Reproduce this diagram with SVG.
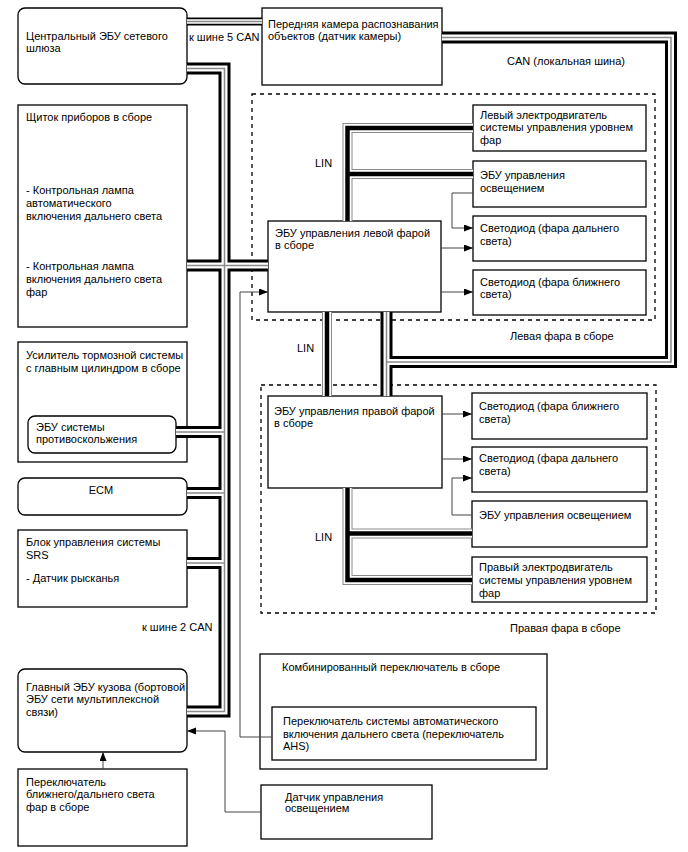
<svg xmlns="http://www.w3.org/2000/svg" xmlns:xlink="http://www.w3.org/1999/xlink" width="688" height="852" viewBox="0 0 688 852">
<style>
.box{fill:#fff;stroke:#000;stroke-width:1.3}
.t{font-family:"Liberation Sans",Arial,sans-serif;font-size:11px;fill:#000}
.dash{fill:none;stroke:#000;stroke-width:1.3;stroke-dasharray:4 4}
.cb{fill:none;stroke:#000;stroke-width:12;stroke-linejoin:miter}
.cw{fill:none;stroke:#fff;stroke-width:6;stroke-linejoin:miter}
.cg{fill:none;stroke:#8a8a8a;stroke-width:1.5;stroke-linejoin:miter}
.lg{fill:none;stroke:#8a8a8a;stroke-width:10;stroke-linejoin:miter}
.lw{fill:none;stroke:#fff;stroke-width:8;stroke-linejoin:miter}
.lb{fill:none;stroke:#000;stroke-width:4.5;stroke-linejoin:miter}
.wire{fill:none;stroke:#444;stroke-width:1}
</style>
<defs>
<marker id="arr" markerUnits="userSpaceOnUse" markerWidth="10" markerHeight="8" refX="9" refY="3.5" orient="auto">
<path d="M0,0 L9,3.5 L0,7 z" fill="#000"/>
</marker>
<path id="c_main" d="M187,68.5 H224.5 V711.5 H187"/>
<path id="c_ip" d="M187,265.5 H268"/>
<path id="c_abs" d="M176,432 H224.5"/>
<path id="c_ecm" d="M187,493 H224.5"/>
<path id="c_srs" d="M187,563 H224.5"/>
<path id="c_cam" d="M442,37.5 H671 V362 H386.5"/>
<path id="c_hl" d="M386.5,312 V396"/>
<path id="c_top" d="M187,21.5 H262"/>
<path id="l_left" d="M347.5,221 V128 H473"/>
<path id="l_left2" d="M347.5,174 H473"/>
<path id="l_mid" d="M327,312 V396"/>
<path id="l_right" d="M347.5,488 V580 H472"/>
<path id="l_right2" d="M347.5,533.5 H472"/>
</defs>
<rect width="688" height="852" fill="#fff"/>

<g id="left-headlamp-group">
<rect class="dash" x="252" y="94" width="403" height="226"/>
<text class="t" x="510" y="340">Левая фара в сборе</text>
</g>
<g id="right-headlamp-group">
<rect class="dash" x="261" y="385" width="395" height="228"/>
<text class="t" x="510" y="632">Правая фара в сборе</text>
</g>

<g id="gateway">
<rect class="box" x="18" y="8" width="169" height="76" rx="7"/>
<text class="t" x="26" y="40">Центральный ЭБУ сетевого</text>
<text class="t" x="26" y="52">шлюза</text>
</g>
<g id="instrument-cluster">
<rect class="box" x="18" y="105" width="169" height="222"/>
<text class="t" x="26" y="121">Щиток приборов в сборе</text>
<text class="t" x="26" y="194">- Контрольная лампа</text>
<text class="t" x="26" y="207">автоматического</text>
<text class="t" x="26" y="220">включения дальнего света</text>
<text class="t" x="26" y="270">- Контрольная лампа</text>
<text class="t" x="26" y="283">включения дальнего света</text>
<text class="t" x="26" y="296">фар</text>
</g>
<g id="brake-booster">
<rect class="box" x="18" y="342" width="169" height="120"/>
<text class="t" x="26" y="359">Усилитель тормозной системы</text>
<text class="t" x="26" y="372">с главным цилиндром в сборе</text>
</g>
<g id="skid-control-ecu">
<rect class="box" x="28" y="416" width="148" height="37" rx="7"/>
<text class="t" x="36" y="431">ЭБУ системы</text>
<text class="t" x="36" y="443">противоскольжения</text>
</g>
<g id="ecm">
<rect class="box" x="18" y="478" width="169" height="37" rx="7"/>
<text class="t" x="101" y="494" text-anchor="middle">ECM</text>
</g>
<g id="srs">
<rect class="box" x="18" y="530" width="169" height="77"/>
<text class="t" x="26" y="546">Блок управления системы</text>
<text class="t" x="26" y="559">SRS</text>
<text class="t" x="26" y="582">- Датчик рысканья</text>
</g>
<g id="main-body-ecu">
<rect class="box" x="18" y="669" width="169" height="83" rx="7"/>
<text class="t" x="26" y="691">Главный ЭБУ кузова (бортовой</text>
<text class="t" x="26" y="703">ЭБУ сети мультиплексной</text>
<text class="t" x="26" y="716">связи)</text>
</g>
<g id="dimmer-switch">
<rect class="box" x="18" y="769" width="169" height="77"/>
<text class="t" x="26" y="786">Переключатель</text>
<text class="t" x="26" y="798">ближнего/дальнего света</text>
<text class="t" x="26" y="811">фар в сборе</text>
</g>
<g id="camera">
<rect class="box" x="262" y="8" width="180" height="77"/>
<text class="t" x="268" y="28">Передняя камера распознавания</text>
<text class="t" x="268" y="40">объектов (датчик камеры)</text>
</g>
<g id="left-ecu">
<rect class="box" x="268" y="221" width="173" height="91"/>
<text class="t" x="275" y="237">ЭБУ управления левой фарой</text>
<text class="t" x="275" y="249">в сборе</text>
</g>
<g id="left-motor">
<rect class="box" x="473" y="105" width="173" height="46"/>
<text class="t" x="480" y="119">Левый электродвигатель</text>
<text class="t" x="480" y="131">системы управления уровнем</text>
<text class="t" x="480" y="144">фар</text>
</g>
<g id="left-light-ecu">
<rect class="box" x="473" y="161" width="173" height="46"/>
<text class="t" x="480" y="179">ЭБУ управления</text>
<text class="t" x="480" y="192">освещением</text>
</g>
<g id="left-led-high">
<rect class="box" x="473" y="216" width="173" height="45"/>
<text class="t" x="480" y="232">Светодиод (фара дальнего</text>
<text class="t" x="480" y="245">света)</text>
</g>
<g id="left-led-low">
<rect class="box" x="473" y="270" width="173" height="45"/>
<text class="t" x="480" y="286">Светодиод (фара ближнего</text>
<text class="t" x="480" y="298">света)</text>
</g>
<g id="right-ecu">
<rect class="box" x="268" y="396" width="174" height="92"/>
<text class="t" x="274" y="415">ЭБУ управления правой фарой</text>
<text class="t" x="274" y="427">в сборе</text>
</g>
<g id="right-led-low">
<rect class="box" x="472" y="393" width="175" height="46"/>
<text class="t" x="479" y="410">Светодиод (фара ближнего</text>
<text class="t" x="479" y="423">света)</text>
</g>
<g id="right-led-high">
<rect class="box" x="472" y="447" width="175" height="45"/>
<text class="t" x="479" y="462">Светодиод (фара дальнего</text>
<text class="t" x="479" y="475">света)</text>
</g>
<g id="right-light-ecu">
<rect class="box" x="472" y="501" width="175" height="46"/>
<text class="t" x="479" y="519">ЭБУ управления освещением</text>
</g>
<g id="right-motor">
<rect class="box" x="472" y="557" width="175" height="45"/>
<text class="t" x="479" y="571">Правый электродвигатель</text>
<text class="t" x="479" y="584">системы управления уровнем</text>
<text class="t" x="479" y="597">фар</text>
</g>
<g id="combination-switch">
<rect class="box" x="260" y="654" width="287" height="115"/>
<text class="t" x="282" y="671">Комбинированный переключатель в сборе</text>
</g>
<g id="ahs-switch">
<rect class="box" x="272" y="707" width="264" height="53"/>
<text class="t" x="283" y="725">Переключатель системы автоматического</text>
<text class="t" x="283" y="738">включения дальнего света (переключатель</text>
<text class="t" x="283" y="750">AHS)</text>
</g>
<g id="light-sensor">
<rect class="box" x="261" y="785" width="171" height="54"/>
<text class="t" x="285" y="801">Датчик управления</text>
<text class="t" x="285" y="812">освещением</text>
</g>

<g id="connectors">
<g class="cb">
<use xlink:href="#c_main"/><use xlink:href="#c_ip"/><use xlink:href="#c_abs"/><use xlink:href="#c_ecm"/><use xlink:href="#c_srs"/><use xlink:href="#c_cam"/><use xlink:href="#c_hl"/>
<use xlink:href="#c_top" style="stroke-width:8"/>
</g>
<g class="cw">
<use xlink:href="#c_main"/><use xlink:href="#c_ip"/><use xlink:href="#c_abs"/><use xlink:href="#c_ecm"/><use xlink:href="#c_srs"/><use xlink:href="#c_cam"/><use xlink:href="#c_hl"/>
<use xlink:href="#c_top" style="stroke-width:4.5"/>
</g>
<g class="cg">
<use xlink:href="#c_main"/><use xlink:href="#c_ip"/><use xlink:href="#c_abs"/><use xlink:href="#c_ecm"/><use xlink:href="#c_srs"/><use xlink:href="#c_cam"/><use xlink:href="#c_hl"/><use xlink:href="#c_top"/>
</g>
<g class="lg">
<use xlink:href="#l_left"/><use xlink:href="#l_left2"/><use xlink:href="#l_mid"/><use xlink:href="#l_right"/><use xlink:href="#l_right2"/>
</g>
<g class="lw">
<use xlink:href="#l_left"/><use xlink:href="#l_left2"/><use xlink:href="#l_mid"/><use xlink:href="#l_right"/><use xlink:href="#l_right2"/>
</g>
<g class="lb">
<use xlink:href="#l_left"/><use xlink:href="#l_left2"/><use xlink:href="#l_mid"/><use xlink:href="#l_right"/><use xlink:href="#l_right2"/>
</g>
<path class="wire" d="M441,248 H473" marker-end="url(#arr)"/>
<path class="wire" d="M441,292 H473" marker-end="url(#arr)"/>
<path class="wire" d="M473,193 H452 V228 H473" marker-end="url(#arr)"/>
<path class="wire" d="M442,414 H472" marker-end="url(#arr)"/>
<path class="wire" d="M442,459 H472" marker-end="url(#arr)"/>
<path class="wire" d="M472,515 H452 V478 H472" marker-end="url(#arr)"/>
<path class="wire" d="M272,737 H240 V292 H268" marker-end="url(#arr)"/>
<path class="wire" d="M261,812 H225 V731 H187" marker-end="url(#arr)"/>
<path class="wire" d="M103,769 V752" marker-end="url(#arr)"/>
</g>

<g id="labels">
<text class="t" x="189" y="41">к шине 5 CAN</text>
<text class="t" x="507" y="65">CAN (локальная шина)</text>
<text class="t" x="142" y="631">к шине 2 CAN</text>
<text class="t" x="315" y="167">LIN</text>
<text class="t" x="297" y="352">LIN</text>
<text class="t" x="315" y="541">LIN</text>
</g>
</svg>
